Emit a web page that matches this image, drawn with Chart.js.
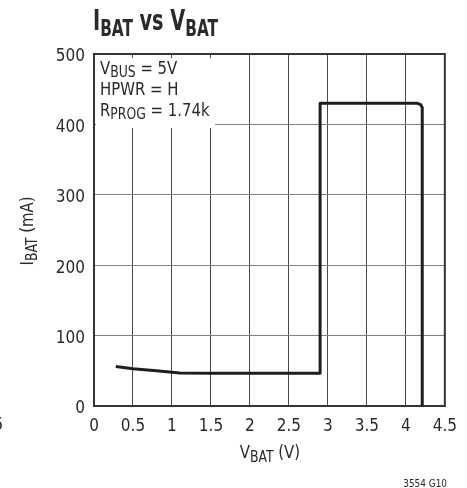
<!DOCTYPE html>
<html>
<head>
<meta charset="utf-8">
<script src="https://cdn.jsdelivr.net/npm/chart.js@4.4.0/dist/chart.umd.min.js"></script>
<style>
    html, body { margin: 0; padding: 0; background: #ffffff; }
    #wrap { width: 467px; height: 488px; position: relative; }
</style>
</head>
<body>
<div id="wrap"><canvas id="ibatChart" width="467" height="488"></canvas></div>
<script>
// Values
const vbat = [0.28, 0.5, 0.8, 1.0, 1.1, 1.5, 2.0, 2.5, 2.9, 2.9, 3.5, 4.0, 4.15, 4.19, 4.21, 4.21];
const ibat = [56, 53, 50, 48, 47, 46.5, 46.5, 46.5, 46.5, 430, 430, 430, 430, 428, 424, 0];

const xTicks = ['0', '0.5', '1', '1.5', '2', '2.5', '3', '3.5', '4', '4.5'];
const yTicks = ['0', '100', '200', '300', '400', '500'];

const FONT = '"Liberation Sans Narrow", "DejaVu Sans Condensed", "Roboto", sans-serif';
const INK = '#2a2a2a';

// draw a run of text pieces, each with its own size and baseline shift;
// sx squeezes the run horizontally to mimic the narrow datasheet face
function drawRuns(ctx, runs, x, y, align, sx) {
    sx = sx || 1;
    let total = 0;
    runs.forEach(r => {
        ctx.font = (r.bold ? 'bold ' : '') + r.size + 'px ' + FONT;
        r.w = ctx.measureText(r.t).width;
        total += r.w;
    });
    let start = x;
    if (align === 'center') start = x - total * sx / 2;
    if (align === 'right') start = x - total * sx;
    ctx.save();
    ctx.translate(start, y);
    ctx.scale(sx, 1);
    let cx = 0;
    runs.forEach(r => {
        ctx.font = (r.bold ? 'bold ' : '') + r.size + 'px ' + FONT;
        ctx.fillText(r.t, cx, r.dy || 0);
        cx += r.w;
    });
    ctx.restore();
}

const decorPlugin = {
    id: 'decor',
    beforeDatasetsDraw(chart) {
        const ctx = chart.ctx;
        const a = chart.chartArea;
        ctx.save();
        // white box behind the conditions note
        ctx.fillStyle = '#ffffff';
        ctx.fillRect(a.left + 2, a.top + 4, 119, 70);
        // plot frame
        ctx.strokeStyle = '#333333';
        ctx.lineWidth = 2;
        ctx.strokeRect(a.left, a.top, a.right - a.left, a.bottom - a.top);
        ctx.restore();
    },
    afterDraw(chart) {
        const ctx = chart.ctx;
        const a = chart.chartArea;
        ctx.save();
        ctx.fillStyle = INK;
        ctx.textBaseline = 'alphabetic';

        // title
        drawRuns(ctx, [
            { t: 'I', size: 29, bold: true },
            { t: 'BAT', size: 23, bold: true, dy: 6 },
            { t: ' vs V', size: 29, bold: true },
            { t: 'BAT', size: 23, bold: true, dy: 6 }
        ], 93, 30, 'left', 0.74);

        // conditions note
        drawRuns(ctx, [
            { t: 'V', size: 18 }, { t: 'BUS', size: 15, dy: 3 }, { t: ' = 5V', size: 18 }
        ], a.left + 6, 74, 'left', 0.92);
        drawRuns(ctx, [{ t: 'HPWR = H', size: 18 }], a.left + 6, 95, 'left', 0.92);
        drawRuns(ctx, [
            { t: 'R', size: 18 }, { t: 'PROG', size: 15, dy: 3 }, { t: ' = 1.74k', size: 18 }
        ], a.left + 6, 116, 'left', 0.92);

        // x axis title
        drawRuns(ctx, [
            { t: 'V', size: 18 }, { t: 'BAT', size: 15, dy: 4 }, { t: ' (V)', size: 18 }
        ], 270, 458, 'center', 0.92);

        // y axis title, rotated
        ctx.save();
        ctx.translate(33, 231);
        ctx.rotate(-Math.PI / 2);
        drawRuns(ctx, [
            { t: 'I', size: 18 }, { t: 'BAT', size: 15, dy: 4 }, { t: ' (mA)', size: 18 }
        ], 0, 0, 'center', 0.92);
        ctx.restore();

        // figure code and stray margin glyph
        drawRuns(ctx, [{ t: '3554 G10', size: 11 }], 447, 487, 'right', 0.9);
        drawRuns(ctx, [{ t: '5', size: 18 }], -7, 430, 'left');
        ctx.restore();
    }
};

document.addEventListener('DOMContentLoaded', function() {
    const ctx = document.getElementById('ibatChart');

    new Chart(ctx, {
        type: 'scatter',
        data: {
            datasets: [{
                data: vbat.map((v, i) => ({ x: v, y: ibat[i] })),
                showLine: true,
                borderColor: '#1e1e1e',
                borderWidth: 3,
                pointRadius: 0,
                tension: 0,
                borderJoinStyle: 'round'
            }]
        },
        options: {
            responsive: false,
            animation: false,
            devicePixelRatio: 1,
            layout: {
                padding: { left: 0, right: 20, top: 54, bottom: 0 }
            },
            plugins: {
                legend: { display: false },
                tooltip: { enabled: false }
            },
            scales: {
                x: {
                    type: 'linear',
                    min: 0,
                    max: 4.5,
                    afterBuildTicks: scale => {
                        scale.ticks = xTicks.map(t => ({ value: parseFloat(t) }));
                    },
                    afterFit: scale => { scale.height = 82; },
                    ticks: {
                        color: INK,
                        padding: 10,
                        maxRotation: 0,
                        autoSkip: false,
                        font: { family: FONT, size: 17 },
                        callback: (v, i) => xTicks[i]
                    },
                    grid: {
                        color: '#4a4a4a',
                        lineWidth: 1,
                        tickLength: 0
                    },
                    border: { display: false }
                },
                y: {
                    type: 'linear',
                    min: 0,
                    max: 500,
                    afterBuildTicks: scale => {
                        scale.ticks = yTicks.map(t => ({ value: parseFloat(t) }));
                    },
                    afterFit: scale => { scale.width = 94; },
                    ticks: {
                        color: INK,
                        padding: 9,
                        labelOffset: 3,
                        autoSkip: false,
                        font: { family: FONT, size: 17 },
                        callback: (v, i) => yTicks[i]
                    },
                    grid: {
                        color: '#808080',
                        lineWidth: 1,
                        tickLength: 0
                    },
                    border: { display: false }
                }
            }
        },
        plugins: [decorPlugin]
    });
});
</script>
</body>
</html>
